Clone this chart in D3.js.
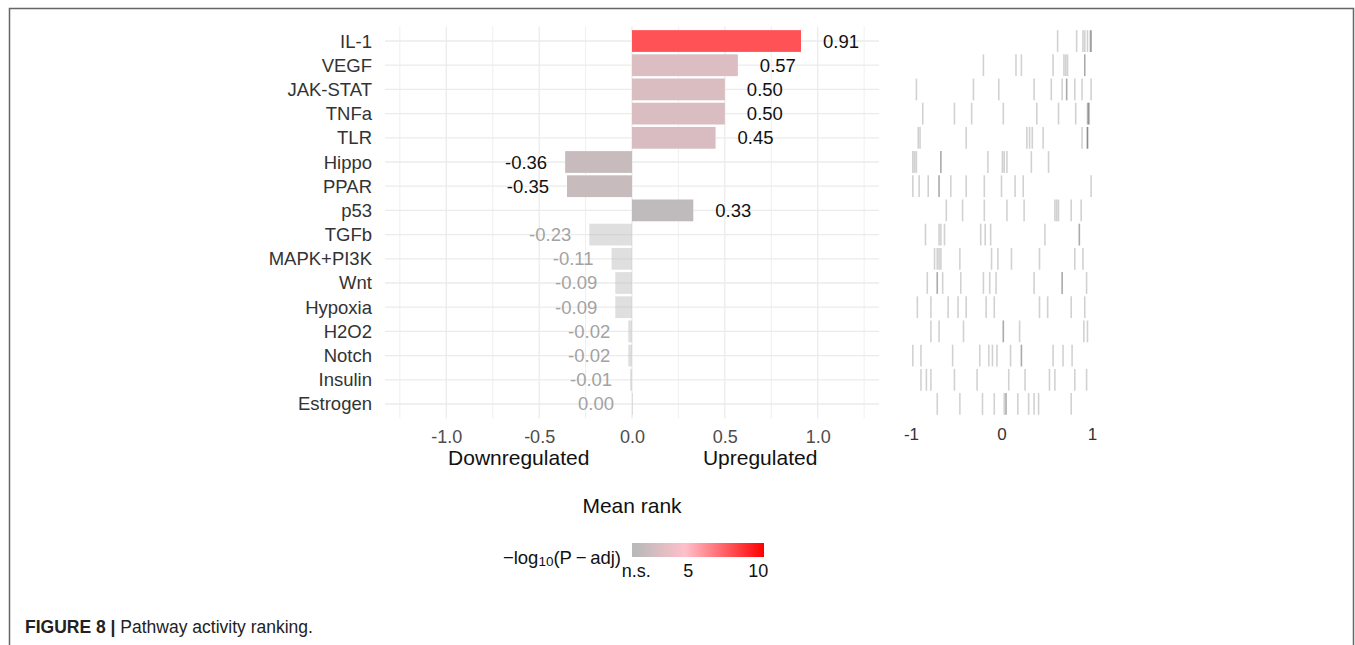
<!DOCTYPE html>
<html><head><meta charset="utf-8">
<script src="https://cdn.jsdelivr.net/npm/d3@7"></script>
<style>
body{margin:0;background:#fff;}
svg{display:block;font-family:"Liberation Sans",Arial,Helvetica,sans-serif;}
</style></head>
<body><svg id="chart" width="1355" height="645"></svg>
<script>
// ---------------- data ----------------
const categories = ["IL-1","VEGF","JAK-STAT","TNFa","TLR","Hippo","PPAR","p53","TGFb","MAPK+PI3K","Wnt","Hypoxia","H2O2","Notch","Insulin","Estrogen"];
const meanRank = [0.91,0.57,0.50,0.50,0.45,-0.36,-0.35,0.33,-0.23,-0.11,-0.09,-0.09,-0.02,-0.02,-0.01,0.00];
const negLog10Padj = [8.0,3.0,2.9,2.9,2.8,2.0,2.0,1.6,0,0,0,0,0,0,0,0];
const xTicks = [-1.0,-0.5,0.0,0.5,1.0];
const xMinor = [-1.25,-0.75,-0.25,0.25,0.75,1.25];
const barcodeTicks = [-1,0,1];
const legendTicks = [{v:1.3,t:"n.s."},{v:5,t:"5"},{v:10,t:"10"}];
// gene-level ranks (barcode), per pathway
const geneRanks = [
  [0.62,0.83,0.90,0.92,0.95,0.98,0.99,0.99],                                  // IL-1
  [-0.20,0.16,0.22,0.57,0.69,0.71,0.73,0.92,0.92],                             // VEGF
  [-0.94,-0.31,-0.03,0.36,0.55,0.67,0.72,0.72,0.81,0.89,0.99],                 // JAK-STAT
  [-0.87,-0.52,-0.33,0.02,0.39,0.63,0.82,0.95,0.96,0.96,0.97],                 // TNFa
  [-0.92,-0.90,-0.39,0.28,0.31,0.34,0.46,0.89,0.95,0.95,0.95],                 // TLR
  [-0.98,-0.96,-0.94,-0.67,-0.67,-0.15,0.01,0.03,0.06,0.33,0.52],              // Hippo
  [-0.98,-0.91,-0.81,-0.69,-0.69,-0.56,-0.39,-0.19,0.00,0.15,0.24,0.99],       // PPAR
  [-0.61,-0.43,-0.19,0.06,0.25,0.59,0.61,0.63,0.77,0.88],                      // p53
  [-0.84,-0.69,-0.67,-0.63,-0.23,-0.18,-0.12,0.48,0.86,0.86],                  // TGFb
  [-0.74,-0.71,-0.69,-0.67,-0.46,-0.11,-0.04,0.11,0.42,0.81,0.90],             // MAPK+PI3K
  [-0.82,-0.71,-0.71,-0.65,-0.45,-0.20,-0.13,-0.06,0.36,0.67,0.67,0.94],       // Wnt
  [-0.93,-0.78,-0.59,-0.48,-0.39,-0.17,-0.08,0.42,0.51,0.77,0.92],             // Hypoxia
  [-0.78,-0.69,-0.42,0.02,0.02,0.20,0.91,0.95],                                // H2O2
  [-0.98,-0.89,-0.54,-0.24,-0.14,-0.10,-0.05,0.10,0.22,0.22,0.57,0.68,0.78],   // Notch
  [-0.89,-0.83,-0.78,-0.52,-0.27,0.08,0.26,0.53,0.59,0.81,0.94],               // Insulin
  [-0.71,-0.46,-0.21,-0.08,0.03,0.05,0.05,0.18,0.30,0.36,0.41,0.77]            // Estrogen
];

// ---------------- layout ----------------
const svg = d3.select("#chart");
const W = 1355, H = 645;
const font = '"Liberation Sans",Arial,Helvetica,sans-serif';

// frame
svg.append("path").attr("d",`M9.5,${H} V8.5 H1353.5 V${H}`)
  .attr("fill","none").attr("stroke","#666").attr("stroke-width",1.5);

const x = d3.scaleLinear().domain([-1.33,1.33]).range([385,879]);
const y = d3.scalePoint().domain(categories).range([26.5,418.5]).padding(0.6);
const step = y.step();
const bh = step*0.9;

const thr = 1.3;
const colLow = d3.scaleLinear().domain([1.3,4.8]).range(["#b9b9b9","#ffc0cb"]).interpolate(d3.interpolateLab).clamp(true);
const colHigh = d3.scaleLinear().domain([4.8,10.4]).range(["#ffc0cb","#ff0000"]).interpolate(d3.interpolateRgb).clamp(true);
const col = v => v <= 4.8 ? colLow(v) : colHigh(v);

const rows = categories.map((c,i)=>({c, v:meanRank[i], p:negLog10Padj[i], sig:negLog10Padj[i]>=thr, genes:geneRanks[i]}));

// gridlines
const g = svg.append("g");
g.selectAll(".minor").data(xMinor).join("line")
  .attr("x1",d=>x(d)).attr("x2",d=>x(d)).attr("y1",y.range()[0]).attr("y2",y.range()[1])
  .attr("stroke","#ebebeb").attr("stroke-width",0.8);
g.selectAll(".major").data(xTicks).join("line")
  .attr("x1",d=>x(d)).attr("x2",d=>x(d)).attr("y1",y.range()[0]).attr("y2",y.range()[1])
  .attr("stroke","#ebebeb").attr("stroke-width",1.3);
g.selectAll(".hg").data(categories).join("line")
  .attr("x1",x.range()[0]).attr("x2",x.range()[1]).attr("y1",d=>y(d)).attr("y2",d=>y(d))
  .attr("stroke","#ebebeb").attr("stroke-width",1.3);

// bars
g.selectAll(".bar").data(rows).join("rect")
  .attr("x",d=>x(Math.min(0,d.v))).attr("width",d=>Math.max(0.8,Math.abs(x(d.v)-x(0))))
  .attr("y",d=>y(d.c)-bh/2).attr("height",bh)
  .attr("fill",d=>col(d.sig?d.p:thr)).attr("fill-opacity",d=>d.sig?1:0.45);

// value labels
g.selectAll(".vl").data(rows).join("text")
  .attr("x",d=>d.v>0 ? x(d.v)+22 : x(d.v)-18)
  .attr("y",d=>y(d.c)+6.5)
  .attr("text-anchor",d=>d.v>0?"start":"end")
  .attr("font-size",18.5).attr("fill",d=>d.sig?"#111":"#a3a3a3")
  .text(d=>d.v.toFixed(2));

// y labels
g.selectAll(".yl").data(categories).join("text")
  .attr("x",372).attr("y",d=>y(d)+6.5).attr("text-anchor","end")
  .attr("font-size",18.5).attr("fill","#333").text(d=>d);

// x axis tick labels (via d3 axis)
const ax = svg.append("g").attr("transform","translate(0,425)")
  .call(d3.axisBottom(x).tickValues(xTicks).tickFormat(d3.format(".1f")).tickSize(0).tickPadding(0));
ax.select(".domain").remove();
ax.selectAll("text").attr("font-family",font).attr("font-size",18).attr("fill","#4d4d4d")
  .attr("dy",0).attr("y",18).text(d=>d.toFixed(1));

svg.append("text").attr("x",x(-0.61)).attr("y",465).attr("text-anchor","middle")
  .attr("font-size",21).attr("fill","#111").text("Downregulated");
svg.append("text").attr("x",x(0.69)).attr("y",465).attr("text-anchor","middle")
  .attr("font-size",21).attr("fill","#111").text("Upregulated");
svg.append("text").attr("x",x(0)).attr("y",513).attr("text-anchor","middle")
  .attr("font-size",21).attr("fill","#111").text("Mean rank");

// barcode panel
const xb = d3.scaleLinear().domain([-1,1]).range([911,1092]);
const bc = svg.append("g");
rows.forEach(r=>{
  bc.selectAll(null).data(r.genes).join("line")
    .attr("x1",d=>xb(d)).attr("x2",d=>xb(d))
    .attr("y1",y(r.c)-bh/2).attr("y2",y(r.c)+bh/2)
    .attr("stroke","#000").attr("stroke-opacity",0.18).attr("stroke-width",1.6);
});
const axb = svg.append("g").attr("transform","translate(0,425)")
  .call(d3.axisBottom(xb).tickValues(barcodeTicks).tickFormat(d3.format("d")).tickSize(0).tickPadding(0));
axb.select(".domain").remove();
axb.selectAll("text").attr("font-family",font).attr("font-size",17).attr("fill","#333").attr("dy",0).attr("y",15)
  .text(d=>String(d));

// legend
const lx = d3.scaleLinear().domain([1.0,10.4]).range([632,764]);
const defs = svg.append("defs");
const grad = defs.append("linearGradient").attr("id","lg");
d3.range(0,1.0001,0.05).forEach(t=>{
  const v = lx.domain()[0] + t*(lx.domain()[1]-lx.domain()[0]);
  grad.append("stop").attr("offset",t).attr("stop-color",col(v));
});
svg.append("rect").attr("x",lx.range()[0]).attr("y",543).attr("width",lx.range()[1]-lx.range()[0]).attr("height",14)
  .attr("fill","url(#lg)");
svg.selectAll(".lt").data(legendTicks).join("text")
  .attr("x",d=>lx(d.v)).attr("y",577).attr("text-anchor","middle")
  .attr("font-size",18).attr("fill","#111").text(d=>d.t);
const lt = svg.append("text").attr("x",621).attr("y",564).attr("text-anchor","end")
  .attr("font-size",18.5).attr("fill","#111");
lt.append("tspan").text("\u2212log");
lt.append("tspan").attr("font-size",13.5).attr("dy",2).text("10");
lt.append("tspan").attr("dy",-2).text("(P\u2009\u2212\u2009adj)");

// caption
const cap = svg.append("text").attr("x",25).attr("y",633).attr("font-size",17.5).attr("fill","#222");
cap.append("tspan").attr("font-weight","bold").text("FIGURE 8 | ");
cap.append("tspan").text("Pathway activity ranking.");
</script></body></html>
